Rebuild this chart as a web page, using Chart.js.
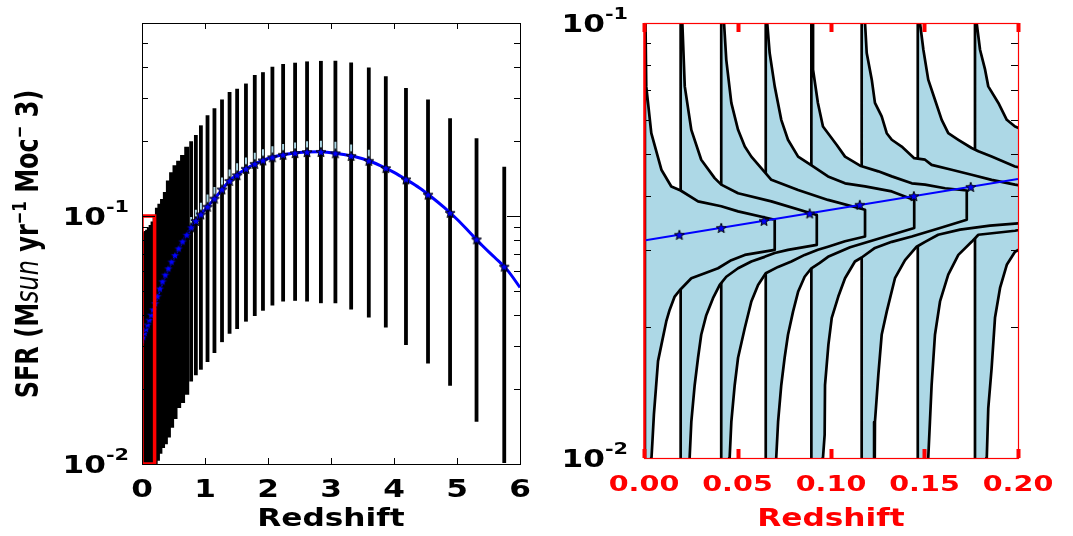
<!DOCTYPE html>
<html><head><meta charset="utf-8">
<script src="https://cdn.jsdelivr.net/npm/chart.js@4.4.1/dist/chart.umd.min.js"></script>
<style>html,body{margin:0;padding:0;background:#fff;overflow:hidden;width:1073px;height:536px}
canvas{position:absolute;top:0}</style></head>
<body>
<canvas id="cl" width="540" height="536" style="left:0;width:540px;height:536px"></canvas>
<canvas id="cr" width="533" height="536" style="left:540px;width:533px;height:536px"></canvas>
<script>
// ---------------- LEFT PANEL DATA ----------------
const binZ = [0.001,0.020,0.042,0.065,0.090,0.117,0.145,0.176,
  0.209,0.245,0.284,0.326,0.371,0.419,0.470,0.524,0.582,0.644,
  0.71,0.78,0.855,0.935,1.04,1.15,1.27,1.39,1.51,1.65,1.79,1.92,
  2.07,2.24,2.43,2.62,2.84,3.07,3.32,3.60,3.87,4.19,4.54,4.89,5.31,5.75];
const barHigh = [0.085,0.085,0.086,0.087,0.088,0.09,0.092,0.095,
  0.10,0.108,0.112,0.117,0.125,0.139,0.15,0.16,0.167,0.176,
  0.19,0.20,0.212,0.232,0.255,0.272,0.295,0.316,0.326,0.342,0.37,0.38,
  0.40,0.41,0.415,0.42,0.422,0.423,0.416,0.397,0.366,0.328,0.295,0.248,0.206,0.158];
const barLow = [0.005,0.005,0.005,0.005,0.005,0.005,0.005,0.005,
  0.005,0.0103,0.011,0.0116,0.012,0.0128,0.014,0.0152,0.0168,0.0176,
  0.019,0.0215,0.0228,0.024,0.0258,0.028,0.031,0.0335,0.035,0.0375,0.0395,0.0415,
  0.0436,0.0452,0.0455,0.0452,0.0445,0.0445,0.042,0.039,0.0355,0.0302,0.0254,0.0207,0.0148,0.0101];
const binSFR = [0.0317,0.0326,0.0338,0.0351,0.0365,0.0382,0.040,0.042,
  0.0445,0.0475,0.051,0.0545,0.058,0.0615,0.0655,0.0695,0.074,0.079,
  0.084,0.090,0.0955,0.1015,0.109,0.1175,0.128,0.1385,0.146,0.155,0.1623,0.1675,
  0.1725,0.1765,0.1793,0.181,0.1813,0.179,0.1747,0.167,0.156,0.1405,0.122,0.103,0.0805,0.0625];
// light-blue peak of each small distribution (visible just above the curve)
const peakZ = [0.78,0.855,0.935,1.04,1.15,1.27,1.39,1.51,1.65,1.79,1.92,2.07,2.24,2.43,2.62,2.84,3.07,3.32,3.60];
const peakLow = [0.091,0.097,0.103,0.111,0.119,0.130,0.140,0.148,0.157,0.164,0.169,0.174,0.178,0.181,0.183,0.183,0.181,0.177,0.169];
const peakHigh = [0.099,0.106,0.113,0.122,0.131,0.143,0.154,0.163,0.172,0.180,0.186,0.191,0.195,0.198,0.200,0.201,0.199,0.194,0.185];
const curveZ = [0,0.1,0.2,0.3,0.4,0.5,0.6,0.7,0.8,0.9,1.0,1.2,1.4,1.6,1.8,2.0,2.2,2.4,2.6,2.8,
  3.0,3.2,3.4,3.6,3.8,4.0,4.2,4.4,4.6,4.8,5.0,5.2,5.4,5.6,5.8,6.0];
const curveSFR = [0.0316,0.0372,0.0438,0.0522,0.0600,0.0677,0.0755,0.0835,0.0915,0.0990,0.106,
  0.1215,0.1395,0.152,0.1628,0.1705,0.1757,0.179,0.181,0.1815,0.180,0.177,0.173,0.167,0.159,
  0.150,0.140,0.130,0.119,0.108,0.097,0.086,0.076,0.068,0.0605,0.0515];
const zoomBoxZ = [0,0,0.2,0.2,0];
const zoomBoxSFR = [0.01,0.1,0.1,0.01,0.01];
const leftXTicks = [0,1,2,3,4,5,6];
const yMajorTicks = [0.01,0.1];
const yTickBase = '10';
const yTickExp = ['-2','-1'];
const leftYMinor = [0.02,0.03,0.04,0.05,0.06,0.07,0.08,0.09,0.2,0.3,0.4,0.5,0.6];

// ---------------- RIGHT PANEL DATA ----------------
const rightXTicks = [0,0.05,0.1,0.15,0.2];
const rightXTickLabels = ['0.00','0.05','0.10','0.15','0.20'];
const rightYMinor = [0.02,0.03,0.04,0.05,0.06,0.07,0.08,0.09];
const rightStarZ = [0.0189,0.0413,0.0642,0.0886,0.1154,0.1443,0.1747];
const rightStarSFR = [0.0326,0.0338,0.0351,0.0365,0.0382,0.040,0.042];
const rightLineZ = [0,0.1,0.2];
const rightLineSFR = [0.0316,0.0372,0.0438];
const violin0 = [[0.0005,0.005],[0.0005,0.15],[0.0008,0.1],[0.0012,0.0715],[0.0039,0.0558],[0.0093,0.046],[0.0146,0.0421],[0.0196,0.0412],[0.0289,0.0389],[0.0413,0.0379],[0.0503,0.0369],[0.0699,0.0353],
  [0.0699,0.0301],[0.0539,0.0293],[0.0467,0.0285],[0.0396,0.0273],[0.0325,0.0266],[0.0253,0.0259],[0.0191,0.0243],[0.0164,0.0235],[0.0137,0.0219],[0.0119,0.0206],[0.0093,0.0182],[0.0075,0.0167],[0.0064,0.0145],[0.0053,0.0126],[0.0045,0.0109],[0.004,0.01],[0.0038,0.005],[0.0005,0.005]];
const violin1 = [[0.0196,0.005],[0.0196,0.15],[0.0205,0.1],[0.0218,0.0715],[0.0253,0.0568],[0.0306,0.0485],[0.0378,0.044],[0.0413,0.0425],[0.0503,0.0406],[0.0681,0.0389],[0.0924,0.0362],
  [0.0924,0.0309],[0.077,0.0301],[0.0699,0.0296],[0.0645,0.029],[0.0574,0.0283],[0.0503,0.0273],[0.044,0.0261],[0.0405,0.025],[0.0369,0.0233],[0.0333,0.0213],[0.0306,0.0192],[0.0289,0.017],[0.0271,0.0147],[0.0253,0.0121],[0.0244,0.01],[0.024,0.005],[0.0196,0.005]];
const violin2 = [[0.0413,0.005],[0.0413,0.15],[0.0428,0.1],[0.044,0.0823],[0.0467,0.0655],[0.0503,0.0568],[0.0539,0.052],[0.0574,0.0493],[0.0627,0.0464],[0.0681,0.0436],[0.0824,0.0413],[0.0984,0.0392],[0.1182,0.0372],
  [0.1182,0.0323],[0.1075,0.0315],[0.0984,0.0306],[0.093,0.0301],[0.0859,0.0293],[0.0788,0.0283],[0.0717,0.0275],[0.0651,0.0266],[0.061,0.025],[0.0574,0.0229],[0.0539,0.0199],[0.0503,0.017],[0.0485,0.0147],[0.0467,0.0121],[0.0458,0.01],[0.0455,0.005],[0.0413,0.005]];
const violin3 = [[0.0651,0.005],[0.0651,0.15],[0.0659,0.1],[0.0672,0.0853],[0.0699,0.0715],[0.0734,0.0599],[0.077,0.0539],[0.0824,0.0493],[0.0904,0.0468],[0.0984,0.0444],[0.1075,0.0428],[0.1182,0.0421],[0.1325,0.041],[0.1445,0.0392],
  [0.1445,0.0338],[0.1262,0.032],[0.1102,0.0305],[0.0984,0.029],[0.094,0.0281],[0.0895,0.0273],[0.0859,0.0261],[0.0824,0.0241],[0.0797,0.0217],[0.077,0.0192],[0.0752,0.017],[0.0734,0.0147],[0.0717,0.0121],[0.0707,0.01],[0.0705,0.005],[0.0651,0.005]];
const violin4 = [[0.0895,0.005],[0.0895,0.15],[0.0904,0.1],[0.0904,0.0781],[0.093,0.0655],[0.0957,0.0578],[0.103,0.0525],[0.1075,0.0493],[0.116,0.0469],[0.1253,0.0456],[0.1325,0.0444],[0.1432,0.0428],[0.1503,0.0425],[0.161,0.0417],[0.1726,0.0412],
  [0.1726,0.0353],[0.1583,0.0338],[0.1432,0.0323],[0.1325,0.0314],[0.1235,0.0304],[0.1164,0.0289],[0.1128,0.0283],[0.1075,0.0259],[0.1039,0.0235],[0.1004,0.021],[0.0986,0.0182],[0.0968,0.0147],[0.0966,0.0113],[0.0957,0.01],[0.0955,0.005],[0.0895,0.005]];
const violin5 = [[0.1164,0.005],[0.1164,0.15],[0.1182,0.1],[0.1191,0.0853],[0.1218,0.0741],[0.1235,0.0655],[0.1271,0.061],[0.1298,0.0558],[0.1325,0.0539],[0.1378,0.052],[0.1445,0.0489],[0.1503,0.0485],[0.1538,0.0472],[0.1645,0.046],[0.1752,0.0448],[0.1859,0.0436],[0.1984,0.0425],[0.21,0.0418],
  [0.21,0.0349],[0.185,0.0342],[0.169,0.0335],[0.1573,0.0326],[0.1503,0.0314],[0.1458,0.0306],[0.1396,0.0285],[0.1342,0.0259],[0.1298,0.0217],[0.1271,0.0192],[0.1253,0.0155],[0.1235,0.0121],[0.1231,0.01],[0.123,0.005],[0.1164,0.005]];
const violin6 = [[0.1464,0.005],[0.1464,0.15],[0.1476,0.1],[0.1494,0.0868],[0.152,0.0741],[0.1556,0.0666],[0.1592,0.0599],[0.1627,0.0558],[0.1681,0.0539],[0.1752,0.0516],[0.1788,0.0507],[0.1859,0.0493],[0.1984,0.0468],[0.21,0.0455],
  [0.21,0.034],[0.1984,0.0333],[0.1788,0.0326],[0.1752,0.0314],[0.1681,0.0293],[0.1627,0.0264],[0.1583,0.0229],[0.1556,0.0192],[0.1538,0.0147],[0.1529,0.0121],[0.152,0.01],[0.1518,0.005],[0.1464,0.005]];
const violin7 = [[0.177,0.005],[0.177,0.15],[0.1779,0.1],[0.1797,0.0868],[0.1824,0.0781],[0.1841,0.0715],[0.1895,0.0655],[0.194,0.0599],[0.1984,0.0578],[0.21,0.0553],
  [0.21,0.0317],[0.1984,0.0298],[0.194,0.0278],[0.1904,0.0246],[0.1877,0.021],[0.1859,0.0161],[0.1841,0.013],[0.1833,0.01],[0.183,0.005],[0.177,0.005]];
const violins = [violin0,violin1,violin2,violin3,violin4,violin5,violin6,violin7];

// ---------------- STYLE / HELPERS ----------------
const SX = 1.3;
const FONT = 'DejaVu Sans';
Chart.defaults.font.family = FONT;
function makeStar(size){
  const c = document.createElement('canvas'); c.width = size; c.height = size;
  const g = c.getContext('2d'); const cx = size/2, cy = size/2 + 0.5;
  const R = size/2 - 0.8, r = R*0.42;
  g.beginPath();
  for (let i=0;i<10;i++){ const a = -Math.PI/2 + i*Math.PI/5; const rr = i%2 ? r : R; g.lineTo(cx+rr*Math.cos(a), cy+rr*Math.sin(a)); }
  g.closePath(); g.fillStyle = '#0000ff'; g.fill(); g.lineWidth = 1; g.strokeStyle = '#000'; g.stroke();
  return c;
}
const stretchText = {
  id: 'stretchText',
  beforeDraw(chart){
    const ctx = chart.ctx;
    if (ctx.__st) return; ctx.__st = true;
    const orig = CanvasRenderingContext2D.prototype.fillText;
    ctx.fillText = function(text, x, y){
      const m = this.getTransform();
      this.save(); this.translate(x, y);
      if (Math.abs(m.b) > 0.5) this.scale(1, SX); else this.scale(SX, 1);
      orig.call(this, text, 0, 0);
      this.restore();
    };
  }
};
const pts = (xs, ys) => xs.map((x,i)=>({x, y: ys[i]}));
function framePlugin(o){
  return {
    id: 'frame',
    afterDraw(chart){
      const {ctx, chartArea: a, scales: {x, y}} = chart;
      ctx.save();
      ctx.strokeStyle = '#000'; ctx.lineWidth = o.yTickW;
      const ytick = (v, len) => { const py = Math.round(y.getPixelForValue(v)) + 0.5;
        ctx.beginPath(); ctx.moveTo(a.left, py); ctx.lineTo(a.left+len, py);
        ctx.moveTo(a.right, py); ctx.lineTo(a.right-len, py); ctx.stroke(); };
      yMajorTicks.forEach(v => ytick(v, 13));
      o.yMinor.forEach(v => ytick(v, o.minorLen));
      ctx.strokeStyle = o.xTickColor; ctx.lineWidth = o.xTickW; ctx.lineCap = 'butt';
      o.xTicks.forEach(v => { const px = Math.round(x.getPixelForValue(v)) + 0.5;
        ctx.beginPath(); ctx.moveTo(px, a.bottom); ctx.lineTo(px, a.bottom - o.xTickLen);
        ctx.moveTo(px, a.top); ctx.lineTo(px, a.top + o.xTickLen); ctx.stroke(); });
      ctx.strokeStyle = o.frameColor; ctx.lineWidth = o.frameW;
      ctx.strokeRect(a.left+0.5, a.top+0.5, a.right-a.left, a.bottom-a.top);
      if (o.leftW) { ctx.lineWidth = o.leftW; ctx.beginPath(); ctx.moveTo(a.left+0.5, a.top); ctx.lineTo(a.left+0.5, a.bottom); ctx.stroke(); }
      // y tick labels: "10" with raised exponent
      ctx.fillStyle = '#000'; ctx.textBaseline = 'middle'; ctx.textAlign = 'left';
      yMajorTicks.forEach((v, i) => {
        const py = y.getPixelForValue(v);
        ctx.font = 'bold 16px "DejaVu Sans"'; const we = ctx.measureText(yTickExp[i]).width * SX;
        ctx.font = 'bold 24px "DejaVu Sans"'; const wb = ctx.measureText(yTickBase).width * SX;
        const right = a.left - o.labelGap;
        ctx.fillText(yTickBase, right - we - wb, py + 3);
        ctx.font = 'bold 16px "DejaVu Sans"'; ctx.fillText(yTickExp[i], right - we, py - 8);
      });
      ctx.restore();
    }
  };
}
const yTitlePieces = [
  ['SFR (M', 'bold 24px "DejaVu Sans"', 0],
  ['sun', 'italic 24px "DejaVu Sans"', 0],
  [' yr', 'bold 24px "DejaVu Sans"', 0],
  ['\u22121', 'bold 15px "DejaVu Sans"', -9],
  [' Moc', 'bold 24px "DejaVu Sans"', 0],
  ['\u2212', 'bold 15px "DejaVu Sans"', -9],
  [' 3)', 'bold 24px "DejaVu Sans"', 0]
];
const yTitlePlugin = {
  id: 'ytitle',
  afterDraw(chart){
    const ctx = chart.ctx;
    ctx.save();
    ctx.translate(30, 244); ctx.rotate(-Math.PI/2);
    ctx.textBaseline = 'middle'; ctx.textAlign = 'left'; ctx.fillStyle = '#000';
    let total = 0;
    yTitlePieces.forEach(([t,f]) => { ctx.font = f; total += ctx.measureText(t).width; });
    let xx = -total/2;
    yTitlePieces.forEach(([t,f,dy]) => { ctx.font = f; ctx.fillText(t, xx, dy); xx += ctx.measureText(t).width; });
    ctx.restore();
  }
};
const tickFont = {family: FONT, size: 24, weight: 'bold'};

// ---------------- LEFT CHART ----------------
const barData = [];
binZ.forEach((z,i) => { barData.push({x:z, y:barLow[i]}, {x:z, y:barHigh[i]}, {x:z, y:null}); });
const peakData = [];
peakZ.forEach((z,i) => { peakData.push({x:z, y:peakLow[i]}, {x:z, y:peakHigh[i]}, {x:z, y:null}); });
new Chart(document.getElementById('cl'), {
  type: 'scatter',
  data: { datasets: [
    { data: pts(zoomBoxZ, zoomBoxSFR), showLine: true, borderColor: '#ff0000', borderWidth: 3.5, pointRadius: 0, fill: false },
    { data: pts(binZ, binSFR), pointStyle: makeStar(12), pointRadius: 6, showLine: false },
    { data: pts(curveZ, curveSFR), showLine: true, borderColor: '#0000ff', borderWidth: 3, pointRadius: 0, cubicInterpolationMode: 'monotone', fill: false },
    { data: peakData, showLine: true, borderColor: '#add8e6', borderWidth: 2, pointRadius: 0, spanGaps: false, fill: false, borderCapStyle: 'butt' },
    { data: barData, showLine: true, borderColor: '#000', borderWidth: 3.5, pointRadius: 0, spanGaps: false, fill: false, borderCapStyle: 'butt',
      segment: { borderWidth: c => (c.p0.parsed.x < 0.75 ? 5 : 3.8) } }
  ]},
  options: {
    responsive: false, animation: false, devicePixelRatio: 1,
    layout: { padding: { left: 0, right: 20, top: 23, bottom: 0 } },
    plugins: { legend: {display: false}, tooltip: {enabled: false} },
    scales: {
      x: { type: 'linear', min: 0, max: 6,
        grid: {display: false}, border: {display: false},
        afterBuildTicks: s => { s.ticks = leftXTicks.map(v => ({value: v})); },
        afterFit: s => { s.height = 72; },
        ticks: { color: '#000', font: tickFont, padding: 4, maxRotation: 0, minRotation: 0, autoSkip: false,
          callback: (v, i) => String(leftXTicks[i]) },
        title: { display: true, text: 'Redshift', color: '#000', font: tickFont, padding: {top: 0, bottom: 2} } },
      y: { type: 'logarithmic', min: 0.01, max: 0.6,
        grid: {display: false}, border: {display: false},
        afterBuildTicks: s => { s.ticks = yMajorTicks.map(v => ({value: v})); },
        afterFit: s => { s.width = 142; },
        ticks: { display: false } }
    }
  },
  plugins: [stretchText, yTitlePlugin, framePlugin({yMinor: leftYMinor, minorLen: 6, yTickW: 1, xTicks: leftXTicks, xTickLen: 6, xTickW: 1, xTickColor: '#000', frameColor: '#000', frameW: 1, labelGap: 13})]
});

// ---------------- RIGHT CHART ----------------
const violinSets = violins.map(v => ({
  data: v.map(([x,y]) => ({x, y})), showLine: true, fill: 'shape',
  backgroundColor: '#add8e6', borderColor: '#000', borderWidth: 2.7, pointRadius: 0, tension: 0, borderJoinStyle: 'round'
}));
new Chart(document.getElementById('cr'), {
  type: 'scatter',
  data: { datasets: [
    { data: pts(rightStarZ, rightStarSFR), pointStyle: makeStar(12), pointRadius: 6, showLine: false },
    { data: pts(rightLineZ, rightLineSFR), showLine: true, borderColor: '#0000ff', borderWidth: 2, pointRadius: 0, fill: false },
    ...violinSets
  ]},
  options: {
    responsive: false, animation: false, devicePixelRatio: 1,
    layout: { padding: { left: 0, right: 55, top: 23, bottom: 0 } },
    plugins: { legend: {display: false}, tooltip: {enabled: false} },
    scales: {
      x: { type: 'linear', min: 0, max: 0.2,
        grid: {display: false}, border: {display: false},
        afterBuildTicks: s => { s.ticks = rightXTicks.map(v => ({value: v})); },
        afterFit: s => { s.height = 78; },
        ticks: { color: '#ff0000', font: {family: FONT, size: 22, weight: 'bold'}, padding: 6, maxRotation: 0, minRotation: 0, autoSkip: false,
          callback: (v, i) => rightXTickLabels[i] },
        title: { display: true, text: 'Redshift', color: '#ff0000', font: tickFont, padding: {top: 0, bottom: 2} } },
      y: { type: 'logarithmic', min: 0.01, max: 0.1,
        grid: {display: false}, border: {display: false},
        afterBuildTicks: s => { s.ticks = yMajorTicks.map(v => ({value: v})); },
        afterFit: s => { s.width = 104; },
        ticks: { display: false } }
    }
  },
  plugins: [stretchText, framePlugin({yMinor: rightYMinor, minorLen: 7, yTickW: 1.2, xTicks: rightXTicks, xTickLen: 9, xTickW: 4, xTickColor: '#ff0000', frameColor: '#ff0000', frameW: 1.2, leftW: 2.5, labelGap: 16})]
});
</script>
</body></html>
